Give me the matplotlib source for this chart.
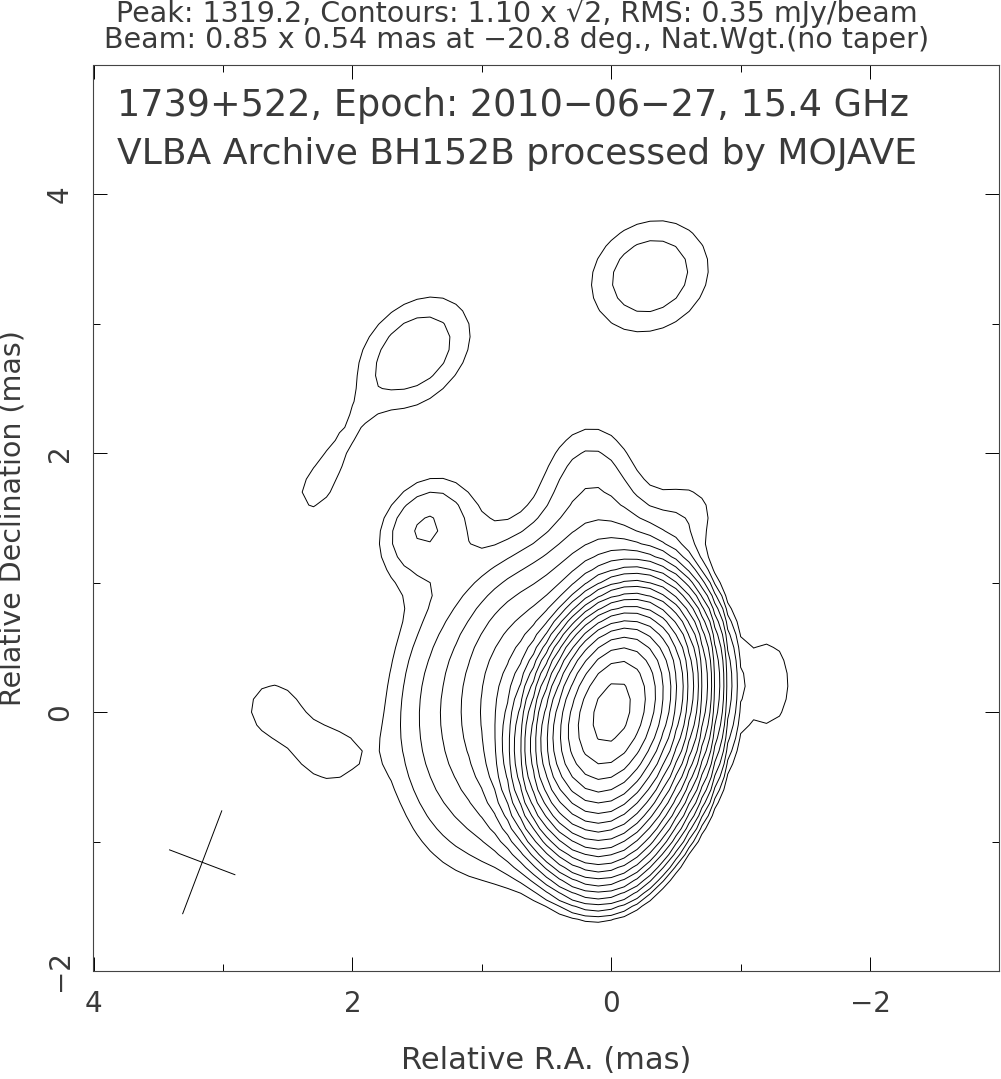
import numpy as np
import matplotlib
matplotlib.use('Agg')
import matplotlib.pyplot as plt

# map header values
peak = 1319.2
base_level = 1.10
n_levels = 21
beam_major = 0.85
beam_minor = 0.54
beam_pa = -20.8
beam_pos = (3.16, -1.16)

# gaussian components (mas, mJy/beam, sigma in mas, PA deg)
#            core   south  north  N-b   N-c   H1    H2    NE    Nshl  W-ext  Wblob SE1   SE2   A     neck  tail  B
comp_ra   = [0.0,   0.02,  -0.05, 0.0,  0.15, 0.6,  1.1,  1.45, -0.62, -0.35, -1.22, 2.62, 2.2,  1.52, 2.15, 2.3,  -0.3]
comp_dec  = [0.0,   -0.3,  0.35,  0.9,  1.78, 0.1,  -0.05, 1.45, 1.55, 0.05,  0.22,  0.03, -0.35, 2.78, 1.95, 1.7,  3.37]
comp_flux = [1110,  237,   150,   6.5,  1.8,  8.0,  3.0,  1.9,  1.2,   45.0,  1.45,  1.35, 1.22, 2.0,  1.05, 0.68, 2.0]
comp_smaj = [0.361, 0.40,  0.22,  0.35, 0.4,  0.6,  0.8,  0.32, 0.25,  0.4,   0.4,   0.27, 0.22, 0.45, 0.35, 0.2,  0.43]
comp_smin = [0.229, 0.24,  0.20,  0.30, 0.3,  0.3,  0.45, 0.24, 0.22,  0.22,  0.2,   0.25, 0.22, 0.32, 0.1,  0.2,  0.37]
comp_pa   = [-20.8, -5,    -20,   0,    0,    0,    0,    -40,  0,     0,     0,     0,    0,    -45,  -30,  0,    -55]

ra = np.arange(-3.0, 4.001, 0.1)
dec = np.arange(-2.0, 5.001, 0.1)
RA, DEC = np.meshgrid(ra, dec)
img = np.zeros_like(RA)
for x0, y0, f, a, b, pa in zip(comp_ra, comp_dec, comp_flux, comp_smaj, comp_smin, comp_pa):
    t = np.radians(pa)
    dx = RA - x0
    dy = DEC - y0
    u = dx * np.sin(t) + dy * np.cos(t)
    v = dx * np.cos(t) - dy * np.sin(t)
    img += f * np.exp(-u**2 / (2 * a**2) - v**2 / (2 * b**2))

levels = base_level * np.sqrt(2) ** np.arange(n_levels)

fig = plt.figure(figsize=(10.01, 10.79), dpi=100)
ax = fig.add_axes([93/1001, 108/1079, 907/1001, 906/1079])
ax.contour(RA, DEC, img, levels=levels, colors='black', linewidths=0.7)

# beam cross
t = np.radians(beam_pa)
for length, ang in [(beam_major, t), (beam_minor, t + np.pi/2)]:
    ex = 0.5 * length * np.sin(ang)
    ey = 0.5 * length * np.cos(ang)
    ax.plot([beam_pos[0] - ex, beam_pos[0] + ex], [beam_pos[1] - ey, beam_pos[1] + ey],
            color='black', lw=0.7)

ax.set_xlim(4, -3)
ax.set_ylim(-2, 5)
ax.set_aspect('equal')

tc = '#3a3a3a'
ax.set_xticks([4, 2, 0, -2])
ax.set_yticks([4, 2, 0, -2])
ax.set_xticks([3, 1, -1], minor=True)
ax.set_yticks([3, 1, -1], minor=True)
ax.set_xticklabels(['4', '2', '0', '\u22122'])
ax.set_yticklabels(['4', '2', '0', '\u22122'], rotation=90, va='center')
ax.tick_params(which='major', direction='in', length=10, width=0.7, top=True, right=True,
               labelsize=20, colors='black', labelcolor=tc, pad=14)
ax.tick_params(which='minor', direction='in', length=5, width=0.7, top=True, right=True)
for s in ax.spines.values():
    s.set_linewidth(0.8)
    s.set_color('#444444')

ax.set_xlabel('Relative R.A. (mas)', fontsize=22, color=tc, labelpad=20)
ax.set_ylabel('Relative Declination (mas)', fontsize=20.5, color=tc, labelpad=14)

fig.text(0.516, 1 - 13/1079, 'Peak: 1319.2, Contours: 1.10 x \u221a2, RMS: 0.35 mJy/beam',
         ha='center', va='center', fontsize=20.5, color=tc)
fig.text(0.516, 1 - 40/1079, 'Beam: 0.85 x 0.54 mas at \u221220.8 deg., Nat.Wgt.(no taper)',
         ha='center', va='center', fontsize=20.5, color=tc)

ax.text(0.026, 0.955, '1739+522, Epoch: 2010\u221206\u221227, 15.4 GHz', transform=ax.transAxes,
        ha='left', va='center', fontsize=26.4, color=tc)
ax.text(0.026, 0.902, 'VLBA Archive BH152B processed by MOJAVE', transform=ax.transAxes,
        ha='left', va='center', fontsize=26, color=tc)

plt.savefig('out.png', dpi=100)
